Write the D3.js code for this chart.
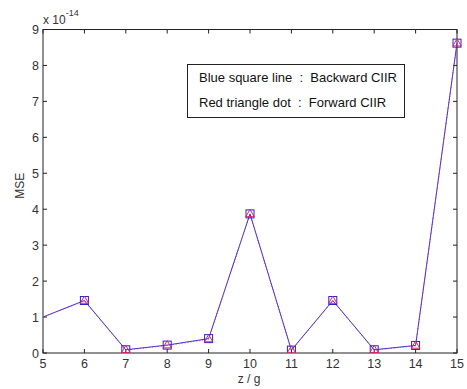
<!DOCTYPE html>
<html>
<head>
<meta charset="utf-8">
<script src="https://cdn.jsdelivr.net/npm/d3@7"></script>
<style>
  body { margin: 0; background: #fff; }
  svg { display: block; font-family: "Liberation Sans", Arial, sans-serif; }
</style>
</head>
<body>
<svg id="vis" width="467" height="389"></svg>
<script>
const width = 467;
const height = 389;
const margin = {top: 29.5, right: 10, bottom: 36, left: 43};

const zg = [5, 6, 7, 8, 9, 10, 11, 12, 13, 14, 15];
const backwardMSE = [1.0, 1.46, 0.09, 0.22, 0.4, 3.87, 0.08, 1.46, 0.09, 0.21, 8.62];
const forwardMSE = [1.0, 1.45, 0.08, 0.21, 0.38, 3.86, 0.07, 1.45, 0.08, 0.2, 8.61];
const xTicks = [5, 6, 7, 8, 9, 10, 11, 12, 13, 14, 15];
const yTicks = [0, 1, 2, 3, 4, 5, 6, 7, 8, 9];
const legendLines = ['Blue square line  :  Backward CIIR', 'Red triangle dot  :  Forward CIIR'];

const svg = d3.select('#vis');
const x = d3.scaleLinear().domain([5, 15]).range([margin.left, width - margin.right]);
const y = d3.scaleLinear().domain([0, 9]).range([height - margin.bottom, margin.top]);
const axisColor = '#222';
const textColor = '#333';

// box
svg.append('rect')
  .attr('x', x(5)).attr('y', y(9))
  .attr('width', x(15) - x(5)).attr('height', y(0) - y(9))
  .attr('fill', 'none').attr('stroke', axisColor).attr('stroke-width', 1);

// inward ticks on all four sides
const tl = 4;
const g = svg.append('g').attr('stroke', axisColor).attr('stroke-width', 1);
xTicks.forEach(t => {
  g.append('line').attr('x1', x(t)).attr('x2', x(t)).attr('y1', y(0)).attr('y2', y(0) - tl);
  g.append('line').attr('x1', x(t)).attr('x2', x(t)).attr('y1', y(9)).attr('y2', y(9) + tl);
});
yTicks.forEach(t => {
  g.append('line').attr('x1', x(5)).attr('x2', x(5) + tl).attr('y1', y(t)).attr('y2', y(t));
  g.append('line').attr('x1', x(15)).attr('x2', x(15) - tl).attr('y1', y(t)).attr('y2', y(t));
});

// tick labels
svg.append('g').selectAll('text').data(xTicks).join('text')
  .attr('x', d => x(d)).attr('y', y(0) + 15)
  .attr('text-anchor', 'middle').attr('font-size', 12.5).attr('fill', textColor)
  .text(d => d);
svg.append('g').selectAll('text').data(yTicks).join('text')
  .attr('x', x(5) - 4).attr('y', d => y(d) + 4.5)
  .attr('text-anchor', 'end').attr('font-size', 12.5).attr('fill', textColor)
  .text(d => d);

// exponent
const ex = svg.append('text').attr('x', 43).attr('y', 24).attr('font-size', 12).attr('fill', textColor);
ex.append('tspan').text('x 10');
ex.append('tspan').attr('dy', -8).attr('font-size', 9).text('-14');

// axis titles
svg.append('text').attr('x', 249).attr('y', 383)
  .attr('text-anchor', 'middle').attr('font-size', 12).attr('fill', textColor).text('z / g');
svg.append('text').attr('transform', `translate(24,${y(4.65)}) rotate(-90)`)
  .attr('text-anchor', 'middle').attr('font-size', 12).attr('fill', textColor).text('MSE');

// lines
svg.append('clipPath').attr('id', 'clip').append('rect')
  .attr('x', x(5)).attr('y', y(9) - 10).attr('width', x(15) - x(5) + 6).attr('height', y(0) - y(9) + 10);
const plot = svg.append('g').attr('clip-path', 'url(#clip)');

const line = d3.line().x((d, i) => x(zg[i])).y(d => y(d));
plot.append('path').datum(backwardMSE)
  .attr('d', line).attr('fill', 'none').attr('stroke', '#3a2ee0').attr('stroke-width', 1);
plot.append('path').datum(forwardMSE)
  .attr('d', line).attr('fill', 'none').attr('stroke', '#b0408a').attr('stroke-width', 1)
  .attr('stroke-dasharray', '1,2');

// markers (first point sits on the axis and is hidden)
const ms = 8;
plot.selectAll('rect.sq').data(backwardMSE.slice(1)).join('rect')
  .attr('class', 'sq')
  .attr('x', (d, i) => x(zg[i + 1]) - ms / 2).attr('y', d => y(d) - ms / 2)
  .attr('width', ms).attr('height', ms)
  .attr('fill', 'none').attr('stroke', '#2a20d0').attr('stroke-width', 1);
const tri = d3.symbol().type(d3.symbolTriangle).size(30);
plot.selectAll('path.tri').data(forwardMSE.slice(1)).join('path')
  .attr('class', 'tri')
  .attr('transform', (d, i) => `translate(${x(zg[i + 1])},${y(d)})`)
  .attr('d', tri)
  .attr('fill', 'none').attr('stroke', '#e0206a').attr('stroke-width', 1);

// legend box
const lg = svg.append('g');
lg.append('rect').attr('x', 187.5).attr('y', 64.5).attr('width', 217).attr('height', 53)
  .attr('fill', '#fff').attr('stroke', axisColor).attr('stroke-width', 1);
lg.selectAll('text').data(legendLines).join('text')
  .attr('x', 199).attr('y', (d, i) => 82 + i * 25)
  .attr('font-size', 13).attr('fill', '#111')
  .attr('xml:space', 'preserve').style('white-space', 'pre')
  .text(d => d);
</script>
</body>
</html>
